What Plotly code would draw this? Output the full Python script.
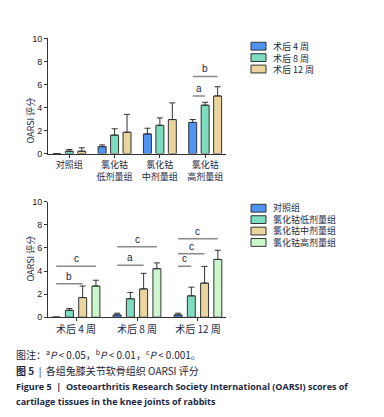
import plotly.graph_objects as go

# ---------------- data ----------------
top_groups = ["对照组", "氯化钴<br>低剂量组", "氯化钴<br>中剂量组", "氯化钴<br>高剂量组"]
top_series = ["术后 4 周", "术后 8 周", "术后 12 周"]
top_means = [
    [0.0, 0.6, 1.7, 2.7],    # 术后 4 周
    [0.2, 1.6, 2.45, 4.2],   # 术后 8 周
    [0.2, 1.85, 2.95, 5.0],  # 术后 12 周
]
top_sd = [
    [0.0, 0.15, 0.5, 0.25],
    [0.15, 0.55, 0.65, 0.25],
    [0.3, 1.55, 1.45, 0.8],
]
# (group index, series a, series b, height, label)
top_sig = [(3, 0, 1, 5.0, "a"), (3, 0, 2, 6.7, "b")]

bot_groups = ["术后 4 周", "术后 8 周", "术后 12 周"]
bot_series = ["对照组", "氯化钴低剂量组", "氯化钴中剂量组", "氯化钴高剂量组"]
bot_means = [
    [0.0, 0.2, 0.2],
    [0.6, 1.6, 1.85],
    [1.7, 2.45, 2.95],
    [2.7, 4.2, 5.0],
]
bot_sd = [
    [0.0, 0.15, 0.15],
    [0.15, 0.55, 0.75],
    [1.0, 1.35, 1.45],
    [0.5, 0.5, 0.8],
]
bot_sig = [
    (0, 0, 2, 2.9, "b"), (0, 0, 3, 4.4, "c"),
    (1, 0, 2, 4.5, "a"), (1, 0, 3, 6.1, "c"),
    (2, 0, 1, 4.4, "c"), (2, 0, 2, 5.5, "c"), (2, 0, 3, 6.8, "c"),
]
y_ticks = [0, 2, 4, 6, 8, 10]

colors_top = ["#4f94f5", "#7edcc0", "#ead59e"]
colors_bot = ["#4f94f5", "#7edcc0", "#ead59e", "#ccf7cc"]

W, H = 384, 417
TXT = "#22273f"
CJK = "Noto Sans CJK SC, Liberation Sans, sans-serif"
NUM = "Liberation Sans, Arial, sans-serif"

fig = go.Figure()

TOP_GAP, TOP_GGAP = 0.175, 0.36
BOT_GAP, BOT_GGAP = 0.13, 0.40


def offset(i, n, gap):
    slot = (1 - gap) / n
    return -(1 - gap) / 2 + (i + 0.5) * slot


def add_bars(names, means, sds, colors, xa, ya, gap, ggap):
    n = len(names)
    w = (1 - gap) / n * (1 - ggap)
    for i, name in enumerate(names):
        fig.add_trace(go.Bar(
            x=list(range(len(means[i]))), y=means[i], name=name,
            xaxis=xa, yaxis=ya, showlegend=False,
            width=w, offset=offset(i, n, gap) - w / 2,
            marker=dict(color=colors[i], line=dict(color="#333333", width=1)),
            error_y=dict(type="data", array=sds[i], arrayminus=[0] * len(sds[i]),
                         symmetric=False, color="#333333", thickness=1, width=3),
        ))


add_bars(top_series, top_means, top_sd, colors_top, "x", "y", TOP_GAP, TOP_GGAP)
add_bars(bot_series, bot_means, bot_sd, colors_bot, "x2", "y2", BOT_GAP, BOT_GGAP)


def add_sig(sigs, n, gap, xr, yr):
    for g, a, b, h, lab in sigs:
        x0 = g + offset(a, n, gap)
        x1 = g + offset(b, n, gap)
        fig.add_shape(type="line", xref=xr, yref=yr, x0=x0, x1=x1, y0=h, y1=h,
                      line=dict(color="#8a8a8a", width=1.5))
        fig.add_annotation(xref=xr, yref=yr, x=(x0 + x1) / 2, y=h, text=lab,
                           showarrow=False, yanchor="bottom", yshift=0,
                           font=dict(family=NUM, size=10, color=TXT))


add_sig(top_sig, 3, TOP_GAP, "x", "y")
add_sig(bot_sig, 4, BOT_GAP, "x2", "y2")


def px_x(p):
    return p / W


def px_y(p):
    return 1 - p / H


axis_common = dict(showline=True, linecolor="#333333", linewidth=1, ticks="outside",
                   ticklen=3, tickcolor="#333333", showgrid=False, zeroline=False)

fig.update_layout(
    width=W, height=H, margin=dict(l=0, r=0, t=0, b=0),
    paper_bgcolor="white", plot_bgcolor="white",
    barmode="overlay",
    xaxis=dict(domain=[px_x(40), px_x(218)], anchor="y", range=[-0.47, 3.46],
               tickmode="array", tickvals=list(range(len(top_groups))), ticktext=top_groups,
               tickfont=dict(family=CJK, size=9, color=TXT), **axis_common),
    yaxis=dict(domain=[px_y(144), px_y(26)], anchor="x", range=[0, 10],
               tickvals=y_ticks, tickfont=dict(family=NUM, size=9, color="#222222"),
               **axis_common),
    xaxis2=dict(domain=[px_x(40), px_x(218)], anchor="y2", range=[-0.46, 2.46],
                tickmode="array", tickvals=list(range(len(bot_groups))), ticktext=bot_groups,
                tickfont=dict(family=CJK, size=10, color=TXT), **axis_common),
    yaxis2=dict(domain=[px_y(311.7), px_y(193.3)], anchor="x2", range=[0, 10],
                tickvals=y_ticks, tickfont=dict(family=NUM, size=9, color="#222222"),
                **axis_common),
)

# y axis titles
for yc in [85, 252]:
    fig.add_annotation(xref="paper", yref="paper", x=px_x(14), y=px_y(yc), text="OARSI 评分",
                       textangle=-90, showarrow=False, font=dict(family=CJK, size=9, color=TXT))

# manual legends: boxes as shapes, labels as one multi-line text block
FS_LEG = 9
LINE = FS_LEG * 1.3


def add_legend(names, colors, x0, ytop):
    for k, (name, c) in enumerate(zip(names, colors)):
        yc = ytop + k * LINE
        fig.add_shape(type="rect", xref="paper", yref="paper",
                      x0=px_x(x0), x1=px_x(x0 + 15), y0=px_y(yc + 4), y1=px_y(yc - 4),
                      fillcolor=c, line=dict(color="#333333", width=1))
    fig.add_annotation(xref="paper", yref="paper", x=px_x(x0 + 20),
                       y=px_y(ytop + (len(names) - 1) * LINE / 2),
                       text="<br>".join(names), showarrow=False, xanchor="left",
                       yanchor="middle", align="left",
                       font=dict(family=CJK, size=FS_LEG, color=TXT))


add_legend(top_series, colors_top, 243, 34)
add_legend(bot_series, colors_bot, 243, 200)

# captions
captions = [
    (350, "图注：<sup>a</sup><i>P</i> < 0.05，<sup>b</sup><i>P</i> < 0.01，<sup>c</sup><i>P</i> < 0.001。", False),
    (366, "<b>图 5</b>  |  各组兔膝关节软骨组织 OARSI 评分", False),
    (382.5, "<b>Figure 5  |  Osteoarthritis Research Society International (OARSI) scores of</b>", True),
    (398, "<b>cartilage tissues in the knee joints of rabbits</b>", True),
]
for yc, t, eng in captions:
    fig.add_annotation(xref="paper", yref="paper", x=px_x(6), y=px_y(yc), text=t,
                       showarrow=False, xanchor="left", yanchor="middle",
                       font=dict(family=("Open Sans, sans-serif" if eng else CJK),
                                 size=(9 if eng else 10), color=TXT))

fig.write_html("out.html")
